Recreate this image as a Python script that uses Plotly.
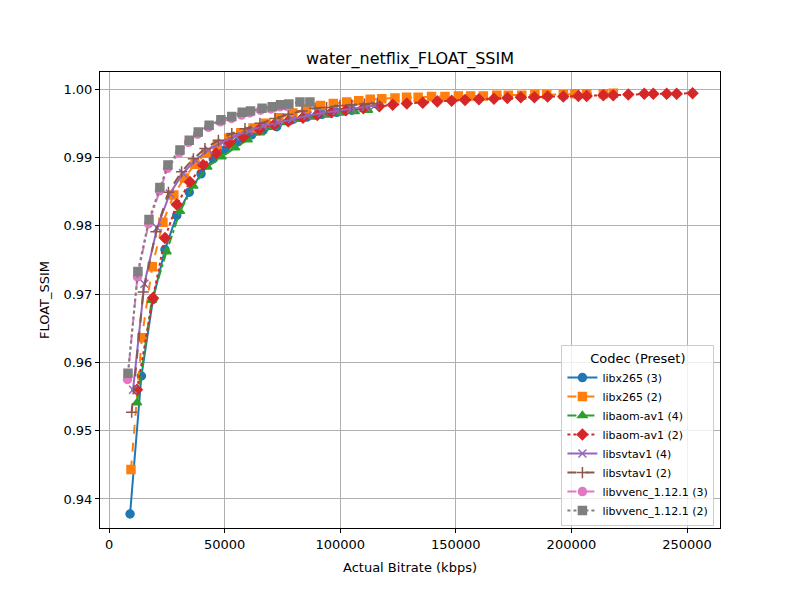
import plotly.graph_objects as go

# bitrate (kbps) e FLOAT_SSIM de cada codec/preset
x265_3_kbps = [9100, 14000, 19000, 24200, 29300, 34700, 39800, 45100, 50200, 55900, 61700,
               66700, 72500, 79000, 85500, 92000, 98500, 105000, 111000]
x265_3_ssim = [0.9378, 0.9580, 0.9692, 0.9765, 0.9815, 0.9849, 0.9876, 0.9898, 0.9911, 0.9923, 0.9933,
               0.9940, 0.9945, 0.9955, 0.9959, 0.9963, 0.9966, 0.9969, 0.9972]

x265_2_kbps = [9500, 14200, 18700, 23300, 28000, 32600, 37200, 42000, 46800, 51800, 57000, 62300,
               67800, 73500, 79500, 85500, 91500, 97000, 102800, 108000, 113000, 118000, 123700,
               128700, 133700, 139500, 145300, 151100, 156400, 161900, 167700, 172700, 178500,
               184200, 189300, 196500, 201500, 206600, 213800, 218100]
x265_2_ssim = [0.9443, 0.9636, 0.9740, 0.9805, 0.9845, 0.9870, 0.9890, 0.9906, 0.9918, 0.9928, 0.9936, 0.9943,
               0.9950, 0.9958, 0.9965, 0.9971, 0.9976, 0.9979, 0.9981, 0.9983, 0.9985, 0.9986, 0.9987,
               0.9988, 0.9988, 0.9989, 0.9989, 0.9990, 0.9990, 0.9990, 0.9991, 0.9991, 0.9991,
               0.9992, 0.9992, 0.9992, 0.9993, 0.9993, 0.9993, 0.9994]

aom_4_kbps = [12100, 18500, 24900, 30700, 36500, 42500, 48700, 54500, 60000, 65300, 71100, 76900,
              82800, 88700, 94600, 100500, 106300, 112000]
aom_4_ssim = [0.9541, 0.9691, 0.9762, 0.9821, 0.9858, 0.9886, 0.9901, 0.9914, 0.9926, 0.9936, 0.9944, 0.9951,
              0.9956, 0.9959, 0.9962, 0.9965, 0.9967, 0.9969]

aom_2_kbps = [12100, 19000, 24200, 29300, 35000, 40700, 46300, 52000, 58100, 65000, 71500, 77500,
              83900, 90100, 96300, 102500, 110000, 116900, 122700, 128800, 135700, 142000, 148200,
              154000, 160000, 166500, 172300, 178100, 184000, 189700, 196500, 203000, 206600,
              213800, 218100, 224600, 231500, 235400, 241200, 245500, 252400]
aom_2_ssim = [0.9560, 0.9694, 0.9782, 0.9831, 0.9864, 0.9889, 0.9906, 0.9921, 0.9930, 0.9941, 0.9948, 0.9953,
              0.9958, 0.9962, 0.9966, 0.9969, 0.9972, 0.9975, 0.9977, 0.9979, 0.9980, 0.9982, 0.9983,
              0.9984, 0.9985, 0.9986, 0.9987, 0.9988, 0.9988, 0.9989, 0.9989, 0.9990, 0.9990,
              0.9991, 0.9991, 0.9992, 0.9993, 0.9993, 0.9993, 0.9993, 0.9994]

svt_4_kbps = [10400, 15300, 20800, 26300, 32000, 37500, 43000, 48800, 54600, 60500, 66700, 73000,
              79300, 85800, 92100, 98500, 104900, 111000, 115000]
svt_4_ssim = [0.9560, 0.9715, 0.9797, 0.9847, 0.9877, 0.9896, 0.9911, 0.9922, 0.9931, 0.9939, 0.9946, 0.9951,
              0.9956, 0.9961, 0.9965, 0.9968, 0.9971, 0.9974, 0.9976]

svt_2_kbps = [9800, 14800, 20300, 25700, 31400, 36500, 41500, 47300, 53100, 58800, 65300, 71800,
              77500, 83500, 89100, 94100, 99900, 105000, 110500, 116000]
svt_2_ssim = [0.9527, 0.9703, 0.9791, 0.9849, 0.9879, 0.9898, 0.9913, 0.9925, 0.9935, 0.9942, 0.9950, 0.9957,
              0.9963, 0.9968, 0.9972, 0.9973, 0.9976, 0.9977, 0.9978, 0.9979]

vvenc_3_kbps = [8000, 12300, 17100, 21800, 25300, 30500, 34400, 38300, 43000, 48200, 53000, 57300,
                60800, 65500, 70000, 73800, 76800]
vvenc_3_ssim = [0.9575, 0.9725, 0.9803, 0.9851, 0.9884, 0.9907, 0.9922, 0.9934, 0.9944, 0.9952, 0.9957, 0.9962,
                0.9965, 0.9969, 0.9971, 0.9974, 0.9975]

vvenc_2_kbps = [8200, 12500, 17300, 22000, 25500, 30700, 34700, 38600, 43300, 48400, 53100, 57600,
                61200, 66200, 70600, 74200, 77800, 82600, 86900]
vvenc_2_ssim = [0.9584, 0.9733, 0.9809, 0.9856, 0.9889, 0.9911, 0.9925, 0.9937, 0.9947, 0.9955, 0.9960, 0.9966,
                0.9968, 0.9972, 0.9974, 0.9977, 0.9978, 0.9981, 0.9981]

names = ['libx265 (3)', 'libx265 (2)', 'libaom-av1 (4)', 'libaom-av1 (2)',
         'libsvtav1 (4)', 'libsvtav1 (2)', 'libvvenc_1.12.1 (3)', 'libvvenc_1.12.1 (2)']
xs = [x265_3_kbps, x265_2_kbps, aom_4_kbps, aom_2_kbps, svt_4_kbps, svt_2_kbps, vvenc_3_kbps, vvenc_2_kbps]
ys = [x265_3_ssim, x265_2_ssim, aom_4_ssim, aom_2_ssim, svt_4_ssim, svt_2_ssim, vvenc_3_ssim, vvenc_2_ssim]

# cores do matplotlib (tab10), tracejados e marcadores
cores = ['#1f77b4', '#ff7f0e', '#2ca02c', '#d62728', '#9467bd', '#8c564b', '#e377c2', '#7f7f7f']
tracos = ['solid', 'dash', 'dashdot', 'dot', 'solid', 'dash', 'dashdot', 'dot']
simbolos = ['circle', 'square', 'triangle-up', 'diamond', 'x-thin-open', 'cross-thin-open', 'circle', 'square']

fig = go.Figure()
for nome, x, y, cor, traco, simb in zip(names, xs, ys, cores, tracos, simbolos):
    fig.add_trace(go.Scatter(
        x=x, y=y, name=nome, mode='lines+markers',
        line=dict(color=cor, width=2, dash=traco),
        marker=dict(symbol=simb, size=8, color=cor, line=dict(color=cor, width=1.5))
    ))

eixo = dict(showline=True, linecolor='black', linewidth=1, mirror=True,
            ticks='outside', ticklen=4, tickcolor='black',
            showgrid=True, gridcolor='#b0b0b0', gridwidth=1, zeroline=False,
            tickfont=dict(size=13, color='black'))

# a página tem 8px de margem no body, por isso 792x592
fig.update_layout(
    width=792, height=592,
    paper_bgcolor='white', plot_bgcolor='white',
    margin=dict(l=92, r=80, t=64, b=72),
    font=dict(family='DejaVu Sans', color='black'),
    title=dict(text='water_netflix_FLOAT_SSIM', x=0.5076, xanchor='center',
               y=0.9155, yanchor='middle', font=dict(size=16)),
    xaxis=dict(eixo, range=[-3900, 264260], tickvals=[0, 50000, 100000, 150000, 200000, 250000],
               ticktext=['0', '50000', '100000', '150000', '200000', '250000'],
               title=dict(text='Actual Bitrate (kbps)', font=dict(size=13), standoff=12)),
    yaxis=dict(eixo, range=[0.93575, 1.0025], tickvals=[0.94, 0.95, 0.96, 0.97, 0.98, 0.99, 1.00],
               tickformat='.2f',
               title=dict(text='FLOAT_SSIM', font=dict(size=13), standoff=10)),
    legend=dict(x=0.991, y=0.004, xanchor='right', yanchor='bottom',
                bgcolor='rgba(255,255,255,0.8)', bordercolor='#cccccc', borderwidth=1,
                font=dict(size=11), tracegroupgap=0,
                title=dict(text='Codec (Preset)', font=dict(size=13), side='top center')),
    showlegend=True
)

fig.write_html("out.html")
